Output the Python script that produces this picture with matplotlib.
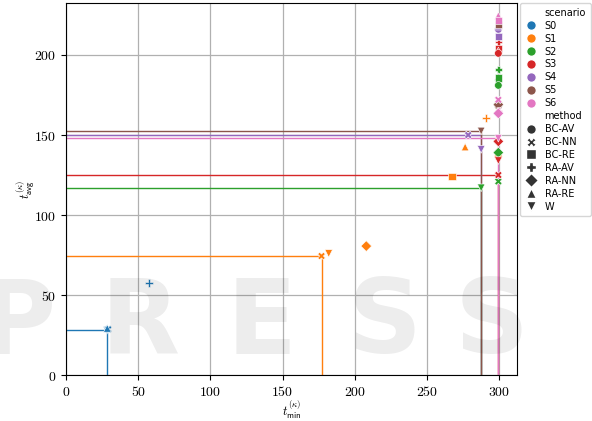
import numpy as np
import matplotlib
matplotlib.use('Agg')
import matplotlib.pyplot as plt
from matplotlib.lines import Line2D
import pandas as pd
import seaborn as sns

plt.rcParams['mathtext.fontset'] = 'cm'

scenarios = ['S0', 'S1', 'S2', 'S3', 'S4', 'S5', 'S6']
methods = ['BC-AV', 'BC-NN', 'BC-RE', 'RA-AV', 'RA-NN', 'RA-RE', 'W']
markers = ['o', 'X', 's', 'P', 'D', '^', 'v']

# (scenario, method, t_min, t_avg)
scenario = ['S0', 'S0', 'S0', 'S0',
            'S1', 'S1', 'S1', 'S1', 'S1', 'S1', 'S1',
            'S2', 'S2', 'S2', 'S2', 'S2', 'S2', 'S2',
            'S3', 'S3', 'S3', 'S3', 'S3', 'S3', 'S3',
            'S4', 'S4', 'S4', 'S4', 'S4', 'S4',
            'S5', 'S5', 'S5', 'S5', 'S5',
            'S6', 'S6', 'S6', 'S6', 'S6', 'S6']
method = ['W', 'BC-NN', 'RA-RE', 'RA-AV',
          'BC-NN', 'W', 'RA-NN', 'BC-RE', 'RA-RE', 'RA-AV', 'BC-AV',
          'W', 'RA-AV', 'RA-RE', 'BC-RE', 'BC-AV', 'RA-NN', 'BC-NN',
          'RA-AV', 'BC-RE', 'RA-RE', 'BC-AV', 'RA-NN', 'W', 'BC-NN',
          'RA-AV', 'BC-RE', 'BC-NN', 'W', 'BC-AV', 'RA-RE',
          'BC-RE', 'BC-AV', 'RA-AV', 'RA-NN', 'W',
          'RA-RE', 'BC-RE', 'BC-NN', 'RA-AV', 'RA-NN', 'W']
t_min = [28.4, 29.2, 28.6, 57.5,
         177.0, 182.0, 208.0, 267.5, 276.5, 291.0, 299.5,
         287.6, 299.5, 299.5, 299.5, 299.5, 299.5, 299.5,
         299.5, 299.5, 299.5, 299.5, 299.5, 299.5, 299.5,
         299.5, 299.5, 278.6, 287.6, 299.5, 299.5,
         299.5, 299.5, 299.5, 299.5, 287.6,
         299.5, 299.5, 299.5, 299.5, 299.5, 299.5]
t_avg = [28.0, 28.6, 29.2, 57.6,
         74.4, 76.0, 80.6, 124.0, 142.5, 160.6, 136.5,
         117.0, 191.0, 186.5, 185.5, 181.0, 139.0, 121.0,
         208.0, 204.0, 202.5, 201.0, 146.0, 134.0, 125.0,
         213.0, 211.5, 150.0, 141.0, 216.0, 218.0,
         219.0, 168.0, 170.0, 169.0, 152.5,
         224.5, 221.5, 172.0, 165.0, 163.5, 148.0]

# reference lines per scenario
line_x = [28.4, 177.0, 287.6, 299.5, 287.6, 287.6, 299.5]
line_y = [28.0, 74.4, 117.0, 125.0, 150.0, 152.5, 148.0]

df = pd.DataFrame({'scenario': scenario, 'method': method,
                   't_min': t_min, 't_avg': t_avg})

fig = plt.figure(figsize=(5.92, 4.21), dpi=100)
ax = fig.add_axes([0.1115, 0.109, 0.762, 0.884])

colors = plt.rcParams['axes.prop_cycle'].by_key()['color']
for i, s in enumerate(scenarios):
    ax.plot([0, line_x[i], line_x[i]], [line_y[i], line_y[i], 0],
            color=colors[i], lw=1, zorder=2)

sns.scatterplot(data=df, x='t_min', y='t_avg', hue='scenario', style='method',
                hue_order=scenarios, style_order=methods, markers=markers,
                s=30, ax=ax, zorder=3, legend=False)

ax.set_xlim(0, 312.5)
ax.set_ylim(0, 232.5)
ax.set_xticks(np.arange(0, 301, 50))
ax.set_yticks(np.arange(0, 201, 50))
ax.set_xticklabels(['$%d$' % v for v in np.arange(0, 301, 50)], fontsize=10)
ax.set_yticklabels(['$%d$' % v for v in np.arange(0, 201, 50)], fontsize=10)
ax.grid(True, color='#b0b0b0', lw=0.9)
ax.set_axisbelow(True)
ax.set_xlabel(r'$t^{(\kappa)}_{\mathsf{min}}$', fontsize=9, labelpad=0)
ax.set_ylabel(r'$t^{(\kappa)}_{\mathsf{avg}}$', fontsize=9, labelpad=-2)

# legend: scenario colours then method markers
blank = Line2D([], [], linestyle='none', marker='')
handles = [blank]
labels = ['scenario']
for c, s in zip(colors, scenarios):
    handles.append(Line2D([], [], linestyle='none', marker='o', color=c,
                          markeredgecolor='w', markersize=7))
    labels.append(s)
handles.append(blank)
labels.append('method')
for m, name in zip(markers, methods):
    handles.append(Line2D([], [], linestyle='none', marker=m, color='#333333',
                          markeredgecolor='w', markersize=7))
    labels.append(name)
ax.legend(handles, labels, loc='upper left', bbox_to_anchor=(1.007, 1.0),
          fontsize=7, frameon=True, borderaxespad=0.0, handlelength=1.2,
          handletextpad=0.8, labelspacing=0.3, borderpad=0.5)

# publisher watermark
for ch, xp in zip('PRESS', [18, 140, 262, 385, 492]):
    fig.text(xp / 592, 1 - 325 / 421, ch, fontsize=74, fontweight='heavy',
             color='black', alpha=0.07, ha='center', va='center', zorder=10)

fig.savefig('out.png', dpi=100)
